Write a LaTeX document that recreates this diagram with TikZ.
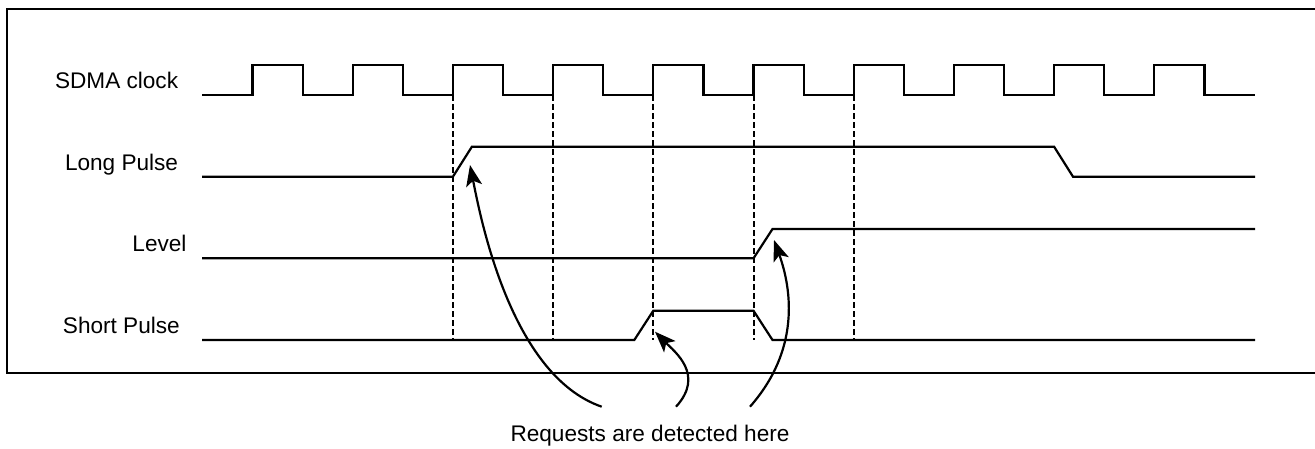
\documentclass[tikz,border=0pt]{standalone}
\usepackage{fontspec}
\setmainfont{Liberation Sans}
\usetikzlibrary{arrows.meta}
\begin{document}
\begin{tikzpicture}[x=1pt,y=-1pt,
  wave/.style={line width=2.2pt, line join=miter},
  frameline/.style={line width=2.2pt},
  sync/.style={line width=2pt, dash pattern=on 5.5pt off 3.5pt},
  callout/.style={line width=2.2pt, -{Stealth[length=21pt,width=16pt,inset=5pt]}},
  siglabel/.style={inner sep=0pt, anchor=base east, font=\fontsize{22.6}{27}\selectfont},
  note/.style={inner sep=0pt, anchor=base, font=\fontsize{22.6}{27}\selectfont}]
\useasboundingbox (0,0) rectangle (1315,448);
% frame (right side lies outside the picture)
\draw[frameline] (1320,9.3) -- (7.3,9.3) -- (7.3,373.3) -- (1320,373.3);
% labels
\node[siglabel] (lclk) at (178.3,88.3) {SDMA clock};
\node[siglabel] (llong) at (178.3,170) {Long Pulse};
\node[siglabel] (llev) at (186.7,251.7) {Level};
\node[siglabel] (lshort) at (180,333.3) {Short Pulse};
\node[note] (req) at (650,441.7) {Requests are detected here};
% clock
\draw[wave] (202,95) -- (252.5,95) -- (252.5,65) -- (302.6,65) -- (302.6,95)
  -- (352.7,95) -- (352.7,65) -- (402.8,65) -- (402.8,95)
  -- (452.9,95) -- (452.9,65) -- (503.0,65) -- (503.0,95)
  -- (553.1,95) -- (553.1,65) -- (603.2,65) -- (603.2,95)
  -- (653.3,95) -- (653.3,65) -- (703.4,65) -- (703.4,95)
  -- (753.5,95) -- (753.5,65) -- (803.6,65) -- (803.6,95)
  -- (853.7,95) -- (853.7,65) -- (903.8,65) -- (903.8,95)
  -- (953.9,95) -- (953.9,65) -- (1004.0,65) -- (1004.0,95)
  -- (1054.1,95) -- (1054.1,65) -- (1104.2,65) -- (1104.2,95)
  -- (1154.3,95) -- (1154.3,65) -- (1204.4,65) -- (1204.4,95) -- (1255,95);
% long pulse
\draw[wave] (202,176.7) -- (452.9,176.7) -- (471.9,146.7) -- (1054.1,146.7) -- (1073,176.7) -- (1255,176.7);
% level
\draw[wave] (202,258.3) -- (753.5,258.3) -- (772.5,229) -- (1255,229);
% short pulse
\draw[wave] (202,340) -- (634.3,340) -- (653.3,310.7) -- (753.5,310.7) -- (772.5,340) -- (1255,340);
% dashed sync lines
\foreach \x in {452.9,553.1,653.3,753.5,853.7}
  \draw[sync] (\x,95) -- (\x,340);
% callouts
\coordinate (s1) at (601.7,406.7);
\coordinate (s2) at (676,406.7);
\coordinate (s3) at (750,406.7);
\coordinate (t1) at (470,165);
\coordinate (t2) at (655,331.7);
\coordinate (t3) at (774,240);
\draw[callout] (s1) .. controls (510,375) and (480,215) .. (t1);
\draw[callout] (s2) .. controls (705,375) and (675,352) .. (t2);
\draw[callout] (s3) .. controls (800,350) and (792,290) .. (t3);
\end{tikzpicture}
\end{document}
